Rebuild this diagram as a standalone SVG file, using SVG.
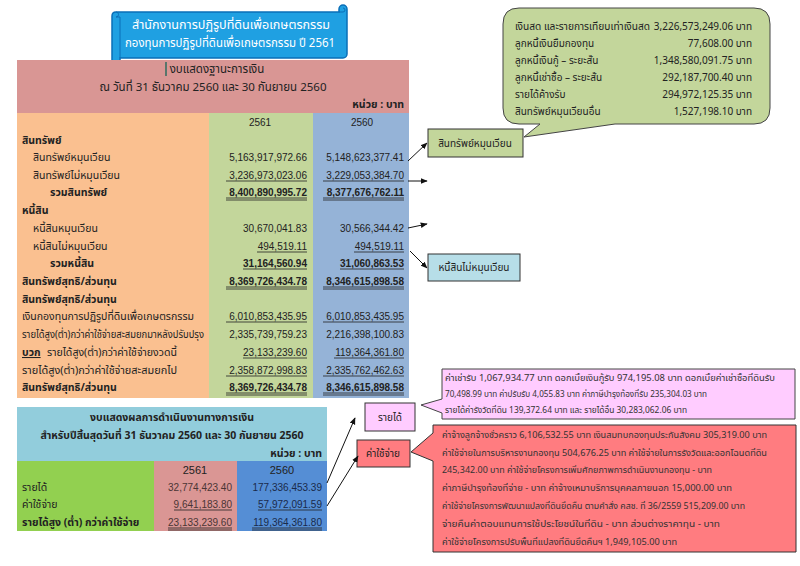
<svg xmlns="http://www.w3.org/2000/svg" width="800" height="566" viewBox="0 0 800 566">
<defs>
<style>
.t{font-family:'Noto Sans Thai','Noto Sans','Liberation Sans',sans-serif;font-size:10.5px;fill:#222}
.n{font-family:'Liberation Sans','Noto Sans',sans-serif;font-size:10px;fill:#222;text-anchor:end}
.c{text-anchor:middle}
.b{font-weight:bold}
.s{font-family:'Noto Sans Thai','Noto Sans','Liberation Sans',sans-serif;font-size:8px;fill:#333}
.ul{stroke:#222;stroke-width:0.8}
.box{stroke:#333;stroke-width:1}
.con{stroke:#111;stroke-width:1;fill:none;marker-end:url(#ah)}
</style>
<marker id="ah" viewBox="0 0 10 10" refX="9" refY="5" markerWidth="7" markerHeight="7" orient="auto" markerUnits="userSpaceOnUse">
<path d="M0,1 L10,5 L0,9 Z" fill="#111"/>
</marker>
</defs>
<rect width="800" height="566" fill="#fff"/>

<g id="title">
<path d="M112,16 Q112,12 116,12 L339,12 L339,9 A4,4 0 0 1 347,9 L347,54 A4,4 0 0 1 343,58 L120,58 L120,60 A4,4 0 0 1 112,60 Z" fill="#1fa0e2" stroke="#0a6fb8" stroke-width="1.5"/>
<path d="M116,12 A2.5,2.5 0 0 1 116,17 L120,17 L120,58 M339,12 L343,12 A2,2 0 0 0 343,8" fill="none" stroke="#0a6fb8" stroke-width="1"/>
<text x="132" y="29" class="t" style="fill:#fff;font-size:12px" textLength="198" lengthAdjust="spacingAndGlyphs">สำนักงานการปฏิรูปที่ดินเพื่อเกษตรกรรม</text>
<text x="125" y="47" class="t" style="fill:#fff;font-size:12px" textLength="210" lengthAdjust="spacingAndGlyphs">กองทุนการปฏิรูปที่ดินเพื่อเกษตรกรรม  ปี 2561</text>
</g>

<g id="balance-sheet">
<rect x="17" y="60" width="392" height="53" fill="#d99694"/>
<rect x="17" y="113" width="192" height="285" fill="#fac090"/>
<rect x="209" y="113" width="104" height="285" fill="#c3d69b"/>
<rect x="313" y="113" width="96" height="285" fill="#95b3d7"/>
<line x1="166" y1="62" x2="166" y2="76" stroke="#2e6b5e" stroke-width="1.5"/>
<text x="217" y="73" class="t c" style="font-size:11.5px">งบแสดงฐานะการเงิน</text>
<text x="213" y="91" class="t c" style="font-size:11.5px">ณ  วันที่ 31 ธันวาคม 2560 และ 30 กันยายน 2560</text>
<text x="404" y="108" class="t b" text-anchor="end">หน่วย : บาท</text>
<text x="260" y="126" class="n c">2561</text>
<text x="362" y="126" class="n c">2560</text>

<text x="22" y="144" class="t b">สินทรัพย์</text>
<text x="33" y="161" class="t">สินทรัพย์หมุนเวียน</text>
<text x="307" y="161" class="n">5,163,917,972.66</text>
<text x="404" y="161" class="n">5,148,623,377.41</text>
<text x="33" y="179" class="t">สินทรัพย์ไม่หมุนเวียน</text>
<text x="307" y="179" class="n">3,236,973,023.06</text>
<text x="404" y="179" class="n">3,229,053,384.70</text>
<text x="50" y="196" class="t b">รวมสินทรัพย์</text>
<text x="307" y="196" class="n b">8,400,890,995.72</text>
<text x="404" y="196" class="n b">8,377,676,762.11</text>
<text x="22" y="214" class="t b">หนี้สิน</text>
<text x="33" y="232" class="t">หนี้สินหมุนเวียน</text>
<text x="307" y="232" class="n">30,670,041.83</text>
<text x="404" y="232" class="n">30,566,344.42</text>
<text x="33" y="250" class="t">หนี้สินไม่หมุนเวียน</text>
<text x="307" y="250" class="n">494,519.11</text>
<text x="404" y="250" class="n">494,519.11</text>
<text x="50" y="267" class="t b">รวมหนี้สิน</text>
<text x="307" y="267" class="n b">31,164,560.94</text>
<text x="404" y="267" class="n b">31,060,863.53</text>
<text x="22" y="285" class="t b">สินทรัพย์สุทธิ/ส่วนทุน</text>
<text x="307" y="285" class="n b">8,369,726,434.78</text>
<text x="404" y="285" class="n b">8,346,615,898.58</text>
<text x="22" y="303" class="t b">สินทรัพย์สุทธิ/ส่วนทุน</text>
<text x="22" y="320" class="t" textLength="172" lengthAdjust="spacingAndGlyphs">เงินกองทุนการปฏิรูปที่ดินเพื่อเกษตรกรรม</text>
<text x="307" y="320" class="n">6,010,853,435.95</text>
<text x="404" y="320" class="n">6,010,853,435.95</text>
<text x="22" y="338" class="t" textLength="182" lengthAdjust="spacingAndGlyphs">รายได้สูง(ต่ำ)กว่าค่าใช้จ่ายสะสมยกมาหลังปรับปรุง</text>
<text x="307" y="338" class="n">2,335,739,759.23</text>
<text x="404" y="338" class="n">2,216,398,100.83</text>
<text x="22" y="356" class="t b" text-decoration="underline">บวก</text>
<text x="47" y="356" class="t" textLength="130" lengthAdjust="spacingAndGlyphs">รายได้สูง(ต่ำ)กว่าค่าใช้จ่ายงวดนี้</text>
<text x="307" y="356" class="n">23,133,239.60</text>
<text x="404" y="356" class="n">119,364,361.80</text>
<text x="22" y="374" class="t" textLength="155" lengthAdjust="spacingAndGlyphs">รายได้สูง(ต่ำ)กว่าค่าใช้จ่ายสะสมยกไป</text>
<text x="307" y="374" class="n">2,358,872,998.83</text>
<text x="404" y="374" class="n">2,335,762,462.63</text>
<text x="22" y="391" class="t b">สินทรัพย์สุทธิ/ส่วนทุน</text>
<text x="307" y="391" class="n b">8,369,726,434.78</text>
<text x="404" y="391" class="n b">8,346,615,898.58</text>

<g class="ul">
<line x1="226" y1="181" x2="307" y2="181"/><line x1="323" y1="181" x2="404" y2="181"/>
<line x1="226" y1="198" x2="307" y2="198"/><line x1="323" y1="198" x2="404" y2="198"/>
<line x1="226" y1="200" x2="307" y2="200"/><line x1="323" y1="200" x2="404" y2="200"/>
<line x1="257" y1="252" x2="307" y2="252"/><line x1="354" y1="252" x2="404" y2="252"/>
<line x1="243" y1="269" x2="307" y2="269"/><line x1="340" y1="269" x2="404" y2="269"/>
<line x1="226" y1="287" x2="307" y2="287"/><line x1="323" y1="287" x2="404" y2="287"/>
<line x1="226" y1="289" x2="307" y2="289"/><line x1="323" y1="289" x2="404" y2="289"/>
<line x1="226" y1="322" x2="307" y2="322"/><line x1="323" y1="322" x2="404" y2="322"/>
<line x1="243" y1="358" x2="307" y2="358"/><line x1="334" y1="358" x2="404" y2="358"/>
<line x1="226" y1="376" x2="307" y2="376"/><line x1="323" y1="376" x2="404" y2="376"/>
<line x1="226" y1="393" x2="307" y2="393"/><line x1="323" y1="393" x2="404" y2="393"/>
<line x1="226" y1="395" x2="307" y2="395"/><line x1="323" y1="395" x2="404" y2="395"/>
</g>
</g>

<g id="income-statement">
<rect x="17" y="407" width="310" height="54" fill="#92cddc"/>
<rect x="17" y="461" width="137" height="70" fill="#92d050"/>
<rect x="154" y="461" width="83" height="70" fill="#da9694"/>
<rect x="237" y="461" width="90" height="70" fill="#558ed5"/>
<text x="172" y="421" class="t c b">งบแสดงผลการดำเนินงานทางการเงิน</text>
<text x="172" y="439" class="t c b">สำหรับปีสิ้นสุดวันที่ 31 ธันวาคม 2560 และ 30 กันยายน 2560</text>
<text x="322" y="457" class="t b" text-anchor="end">หน่วย : บาท</text>
<text x="195" y="474" class="n c" style="font-size:11px">2561</text>
<text x="282" y="474" class="n c" style="font-size:11px">2560</text>
<text x="22" y="491" class="t">รายได้</text>
<text x="232" y="491" class="n" style="fill:#4a3535">32,774,423.40</text>
<text x="322" y="491" class="n" style="fill:#1a2a4a">177,336,453.39</text>
<text x="22" y="508" class="t">ค่าใช้จ่าย</text>
<text x="232" y="508" class="n" style="fill:#4a3535">9,641,183.80</text>
<text x="322" y="508" class="n" style="fill:#1a2a4a">57,972,091.59</text>
<text x="22" y="526" class="t b">รายได้สูง (ต่ำ) กว่าค่าใช้จ่าย</text>
<text x="232" y="526" class="n" style="fill:#4a3535">23,133,239.60</text>
<text x="322" y="526" class="n" style="fill:#1a2a4a">119,364,361.80</text>
<g class="ul">
<line x1="174" y1="510" x2="232" y2="510"/><line x1="258" y1="510" x2="322" y2="510"/>
<line x1="168" y1="528" x2="232" y2="528"/><line x1="252" y1="528" x2="322" y2="528"/>
<line x1="168" y1="530" x2="232" y2="530"/><line x1="252" y1="530" x2="322" y2="530"/>
</g>
</g>

<g id="callout-current-assets">
<path d="M519,8 H754 Q770,8 770,24 V108 Q770,124 754,124 H615 L524,137 L540,124 H519 Q503,124 503,108 V24 Q503,8 519,8 Z" fill="#c3d69b" stroke="#444" stroke-width="1"/>
<text x="515" y="30" class="t" style="font-size:10px" textLength="135" lengthAdjust="spacingAndGlyphs">เงินสด และรายการเทียบเท่าเงินสด</text>
<text x="515" y="47" class="t" style="font-size:10px">ลูกหนี้เงินยืมกองทุน</text>
<text x="515" y="64" class="t" style="font-size:10px">ลูกหนี้เงินกู้ – ระยะสั้น</text>
<text x="515" y="81" class="t" style="font-size:10px">ลูกหนี้เช่าซื้อ – ระยะสั้น</text>
<text x="515" y="98" class="t" style="font-size:10px">รายได้ค้างรับ</text>
<text x="515" y="115" class="t" style="font-size:10px">สินทรัพย์หมุนเวียนอื่น</text>
<text x="752" y="30" class="t" style="font-size:10px" text-anchor="end">3,226,573,249.06 บาท</text>
<text x="752" y="47" class="t" style="font-size:10px" text-anchor="end">77,608.00 บาท</text>
<text x="752" y="64" class="t" style="font-size:10px" text-anchor="end">1,348,580,091.75 บาท</text>
<text x="752" y="81" class="t" style="font-size:10px" text-anchor="end">292,187,700.40 บาท</text>
<text x="752" y="98" class="t" style="font-size:10px" text-anchor="end">294,972,125.35 บาท</text>
<text x="752" y="115" class="t" style="font-size:10px" text-anchor="end">1,527,198.10 บาท</text>
</g>

<g id="box-current-assets">
<rect x="428" y="129" width="95" height="28" fill="#c3d69b" class="box"/>
<text x="475" y="147" class="t c" style="font-size:10px">สินทรัพย์หมุนเวียน</text>
</g>

<g id="box-noncurrent-liab">
<rect x="428" y="254" width="92" height="27" fill="#b7dee8" class="box"/>
<text x="474" y="271" class="t c" style="font-size:10px">หนี้สินไม่หมุนเวียน</text>
</g>

<g id="box-revenue">
<rect x="365" y="403" width="50" height="28" fill="#ffccff" class="box"/>
<text x="390" y="421" class="t c" style="font-size:10px">รายได้</text>
</g>

<g id="box-expense">
<rect x="357" y="440" width="53" height="27" fill="#ff7c80" class="box"/>
<text x="383" y="457" class="t c" style="font-size:10px">ค่าใช้จ่าย</text>
</g>

<g id="callout-revenue">
<path d="M442,369 H795 V419 H442 V413 L421,405 L442,399 Z" fill="#ffccff" stroke="#444" stroke-width="1"/>
<text x="445" y="381" class="s" textLength="330" lengthAdjust="spacingAndGlyphs">ค่าเช่ารับ 1,067,934.77  บาท ดอกเบี้ยเงินกู้รับ 974,195.08  บาท ดอกเบี้ยค่าเช่าซื้อที่ดินรับ</text>
<text x="445" y="397" class="s" textLength="262" lengthAdjust="spacingAndGlyphs">70,498.99  บาท ค่าปรับรับ 4,055.83  บาท ค่าภาษีบำรุงท้องที่รับ 235,304.03  บาท</text>
<text x="445" y="413" class="s" textLength="242" lengthAdjust="spacingAndGlyphs">รายได้ค่ารังวัดที่ดิน  139,372.64  บาท และ รายได้อื่น 30,283,062.06  บาท</text>
</g>

<g id="callout-expense">
<path d="M433,425 H796 V552 H433 V461 L411,452 L433,433 Z" fill="#ff7c80" stroke="#333" stroke-width="1"/>
<text x="442" y="438" class="s" textLength="325" lengthAdjust="spacingAndGlyphs">ค่าจ้างลูกจ้างชั่วคราว 6,106,532.55  บาท เงินสมทบกองทุนประกันสังคม 305,319.00  บาท</text>
<text x="442" y="456" class="s" textLength="325" lengthAdjust="spacingAndGlyphs">ค่าใช้จ่ายในการบริหารงานกองทุน 504,676.25 บาท ค่าใช้จ่ายในการรังวัดและออกโฉนดที่ดิน</text>
<text x="442" y="473" class="s" textLength="270" lengthAdjust="spacingAndGlyphs">245,342.00  บาท ค่าใช้จ่ายโครงการเพิ่มศักยภาพการดำเนินงานกองทุน  - บาท</text>
<text x="442" y="491" class="s" textLength="290" lengthAdjust="spacingAndGlyphs">ค่าภาษีบำรุงท้องที่จ่าย  - บาท  ค่าจ้างเหมาบริการบุคคลภายนอก 15,000.00 บาท</text>
<text x="442" y="509" class="s" textLength="303" lengthAdjust="spacingAndGlyphs">ค่าใช้จ่ายโครงการพัฒนาแปลงที่ดินยึดคืน ตามคำสั่ง คสช. ที่ 36/2559   515,209.00  บาท</text>
<text x="442" y="527" class="s" textLength="278" lengthAdjust="spacingAndGlyphs">จ่ายคืนค่าตอบแทนการใช้ประโยชน์ในที่ดิน  - บาท  ส่วนต่างราคาทุน  - บาท</text>
<text x="442" y="545" class="s" textLength="235" lengthAdjust="spacingAndGlyphs">ค่าใช้จ่ายโครงการปรับพื้นที่แปลงที่ดินยึดคืนฯ  1,949,105.00  บาท</text>
</g>

<g id="connectors">
<line x1="408" y1="161" x2="427" y2="143" class="con"/>
<line x1="408" y1="181" x2="427" y2="181" class="con"/>
<line x1="408" y1="228" x2="427" y2="224" class="con"/>
<line x1="410" y1="251" x2="427" y2="268" class="con"/>
<line x1="327" y1="483" x2="355" y2="418" class="con"/>
<line x1="327" y1="506" x2="358" y2="456" class="con"/>
</g>
</svg>
